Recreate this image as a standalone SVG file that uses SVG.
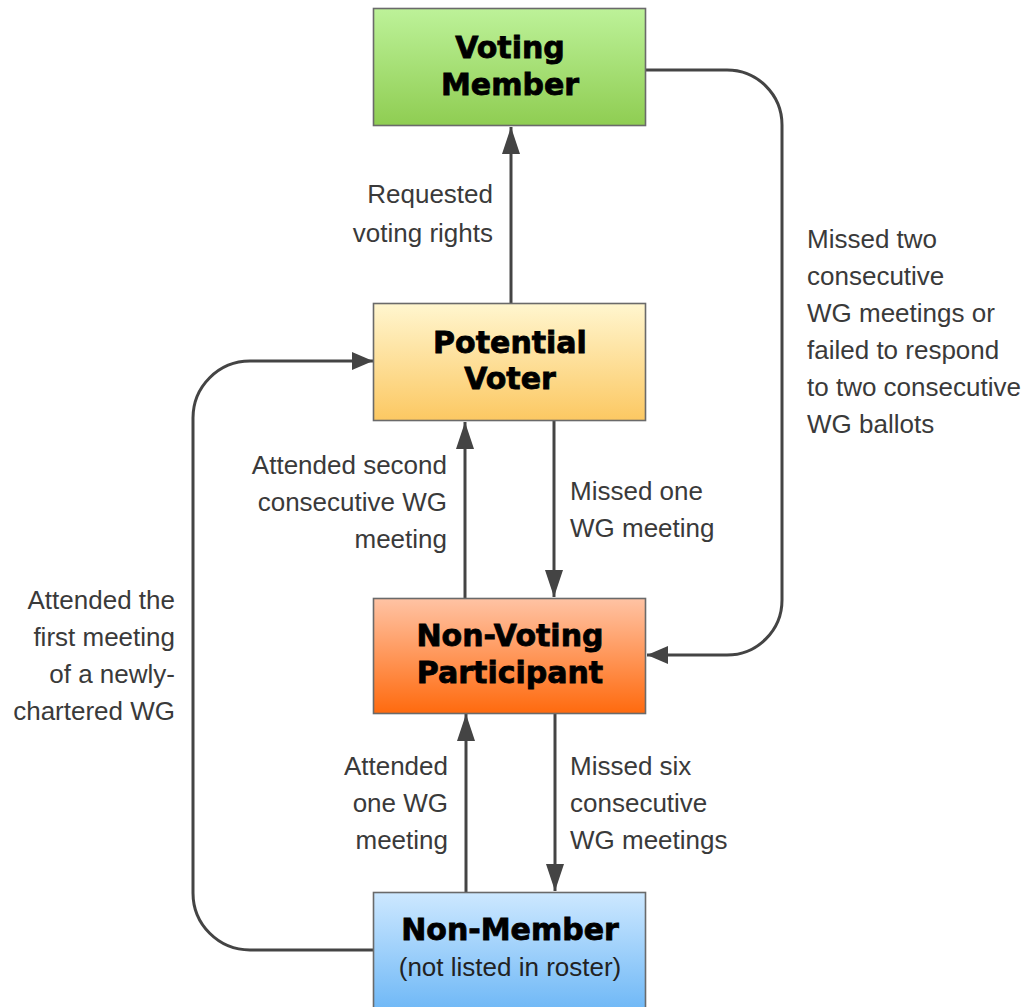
<svg xmlns="http://www.w3.org/2000/svg" width="1025" height="1007" viewBox="0 0 1025 1007">
<style>
.box{stroke:#6a6a6a;stroke-width:1.6}
.title{font-family:"DejaVu Sans",sans-serif;font-weight:bold;font-size:30px;fill:#000;stroke:#000;stroke-width:0.8;text-anchor:middle}
.sub{font-family:"Liberation Sans",Arial,sans-serif;font-size:26px;fill:#222;text-anchor:middle}
.lbl{font-family:"Liberation Sans",Arial,sans-serif;font-size:26px;fill:#3a3a3a}
.r{text-anchor:end}
.l{text-anchor:start}
.conn{fill:none;stroke:#444;stroke-width:3}
</style>
<defs>
<linearGradient id="gGreen" x1="0" y1="0" x2="0" y2="1"><stop offset="0" stop-color="#bdf299"/><stop offset="1" stop-color="#8fcd52"/></linearGradient>
<linearGradient id="gYellow" x1="0" y1="0" x2="0" y2="1"><stop offset="0" stop-color="#fff6cf"/><stop offset="1" stop-color="#fcc862"/></linearGradient>
<linearGradient id="gOrange" x1="0" y1="0" x2="0" y2="1"><stop offset="0" stop-color="#ffc3a4"/><stop offset="1" stop-color="#ff6a0e"/></linearGradient>
<linearGradient id="gBlue" x1="0" y1="0" x2="0" y2="1"><stop offset="0" stop-color="#cde8ff"/><stop offset="1" stop-color="#6db7f6"/></linearGradient>
<marker id="arrV" markerUnits="userSpaceOnUse" markerWidth="28" markerHeight="20" refX="27" refY="9" orient="auto"><path d="M0,0 L27,9 L0,18 z" fill="#444"/></marker>
<marker id="arrH" markerUnits="userSpaceOnUse" markerWidth="22" markerHeight="20" refX="21" refY="9" orient="auto"><path d="M0,0 L21,9 L0,18 z" fill="#444"/></marker>
</defs>
<rect width="1025" height="1007" fill="#fff"/>

<g id="connectors">
<path class="conn" d="M511,303 L511,127" marker-end="url(#arrV)"/>
<path class="conn" d="M646,70 H727 A55,55 0 0 1 782,125 V600 A55,55 0 0 1 727,655 H647" marker-end="url(#arrH)"/>
<path class="conn" d="M373,950 H250 A57,57 0 0 1 193,893 V418 A57,57 0 0 1 250,361 H373" marker-end="url(#arrH)"/>
<path class="conn" d="M465,598 L465,422" marker-end="url(#arrV)"/>
<path class="conn" d="M554,421 L554,597" marker-end="url(#arrV)"/>
<path class="conn" d="M466,892 L466,714" marker-end="url(#arrV)"/>
<path class="conn" d="M555,713 L555,891" marker-end="url(#arrV)"/>
</g>

<g id="voting-member">
<rect class="box" x="373.5" y="8.5" width="272" height="117" fill="url(#gGreen)"/>
<text class="title" x="510" y="58">Voting</text>
<text class="title" x="510" y="95">Member</text>
</g>

<g id="potential-voter">
<rect class="box" x="373.5" y="303.5" width="272" height="117" fill="url(#gYellow)"/>
<text class="title" x="510" y="353">Potential</text>
<text class="title" x="510" y="389">Voter</text>
</g>

<g id="non-voting-participant">
<rect class="box" x="373.5" y="598.5" width="272" height="115" fill="url(#gOrange)"/>
<text class="title" x="510" y="646">Non-Voting</text>
<text class="title" x="510" y="683">Participant</text>
</g>

<g id="non-member">
<rect class="box" x="373.5" y="892.5" width="272" height="120" fill="url(#gBlue)"/>
<text class="title" x="510" y="940">Non-Member</text>
<text class="sub" x="510" y="976">(not listed in roster)</text>
</g>

<g id="labels">
<text class="lbl r" x="493" y="203">Requested</text>
<text class="lbl r" x="493" y="242">voting rights</text>

<text class="lbl l" x="807" y="248">Missed two</text>
<text class="lbl l" x="807" y="285">consecutive</text>
<text class="lbl l" x="807" y="322">WG meetings or</text>
<text class="lbl l" x="807" y="359">failed to respond</text>
<text class="lbl l" x="807" y="396">to two consecutive</text>
<text class="lbl l" x="807" y="433">WG ballots</text>

<text class="lbl r" x="447" y="474">Attended second</text>
<text class="lbl r" x="447" y="511">consecutive WG</text>
<text class="lbl r" x="447" y="548">meeting</text>

<text class="lbl l" x="570" y="500">Missed one</text>
<text class="lbl l" x="570" y="537">WG meeting</text>

<text class="lbl r" x="175" y="609">Attended the</text>
<text class="lbl r" x="175" y="646">first meeting</text>
<text class="lbl r" x="175" y="683">of a newly-</text>
<text class="lbl r" x="175" y="720">chartered WG</text>

<text class="lbl r" x="448" y="775">Attended</text>
<text class="lbl r" x="448" y="812">one WG</text>
<text class="lbl r" x="448" y="849">meeting</text>

<text class="lbl l" x="570" y="775">Missed six</text>
<text class="lbl l" x="570" y="812">consecutive</text>
<text class="lbl l" x="570" y="849">WG meetings</text>
</g>
</svg>
